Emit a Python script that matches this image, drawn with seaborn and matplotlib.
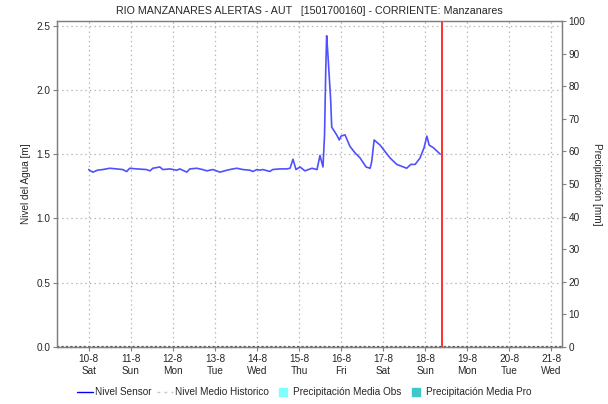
#!/usr/bin/env python
# plot.py - nivel del rio Manzanares
import pandas as pd
import seaborn as sns
import matplotlib.pyplot as plt
from matplotlib.lines import Line2D

# hours since 2024-08-10 00:00 and water level [m]
hours = [0, 1, 2.5, 5, 8, 12, 16, 19.4, 21.7, 23.4, 27.4, 33, 35, 36.6, 40.6,
         42.3, 46.3, 50.3, 52, 56, 57.7, 61.7, 65, 67.4, 70.9, 74.9, 78.9,
         82.3, 84.6, 88, 92, 93.7, 96, 97.7, 99.4, 103.4, 105, 109, 113,
         114.9, 116.6, 118.3, 120.6, 123.4, 127.4, 130.3, 132, 133.7, 134.6,
         135.3, 135.8, 136.4, 137.3, 138.1, 138.7, 141.5, 143, 144, 146.3,
         149.1, 152, 154.9, 158.3, 160.6, 161.5, 162.9, 166.3, 168, 172,
         175.8, 181.5, 183.8, 186.3, 189.1, 191.4, 193, 194.3, 196.7, 200.6]
nivel = [1.38, 1.37, 1.36, 1.375, 1.38, 1.39, 1.385, 1.38, 1.365, 1.39,
         1.385, 1.38, 1.37, 1.39, 1.40, 1.38, 1.385, 1.375, 1.385, 1.36,
         1.385, 1.39, 1.38, 1.37, 1.38, 1.36, 1.375, 1.385, 1.39, 1.38,
         1.375, 1.365, 1.38, 1.375, 1.38, 1.365, 1.38, 1.385, 1.385, 1.39,
         1.46, 1.38, 1.40, 1.37, 1.39, 1.38, 1.49, 1.40, 1.65, 2.16, 2.42,
         2.30, 2.10, 1.92, 1.71, 1.65, 1.61, 1.64, 1.65, 1.56, 1.51, 1.47,
         1.40, 1.39, 1.44, 1.61, 1.57, 1.54, 1.47, 1.42, 1.39, 1.42, 1.42,
         1.47, 1.55, 1.64, 1.57, 1.55, 1.50]

start = pd.Timestamp('2024-08-10 00:00')
ahora = pd.Timestamp('2024-08-18 09:40')
x_min = pd.Timestamp('2024-08-09 06:00')
x_max = pd.Timestamp('2024-08-21 06:00')
dias = pd.date_range('2024-08-10', '2024-08-21', freq='D')
dia_sem = ['Sat', 'Sun', 'Mon', 'Tue', 'Wed', 'Thu', 'Fri', 'Sat', 'Sun',
           'Mon', 'Tue', 'Wed']

titulo = 'RIO MANZANARES ALERTAS - AUT   [1501700160] - CORRIENTE: Manzanares'

df = pd.DataFrame({'fecha': start + pd.to_timedelta(hours, unit='h'),
                   'nivel': nivel})

sns.set_style('white')
plt.rcParams['font.family'] = ['Liberation Sans', 'DejaVu Sans']
plt.rcParams['font.size'] = 7.2

fig = plt.figure(figsize=(6.08, 4.04), dpi=100)
ax = fig.add_axes([0.094, 0.141, 0.830, 0.807])

sns.lineplot(data=df, x='fecha', y='nivel', ax=ax, color='#5050ff',
             linewidth=1.2)
ax.plot([x_min, x_max], [0, 0], color='#555555', linestyle=(0, (1, 1)),
        linewidth=1.6, clip_on=False, zorder=5)
ax.axvline(ahora, color='#ff2020', linewidth=1.3, zorder=6)

ax.set_xlim(x_min, x_max)
ax.set_ylim(0, 2.535)
ax.set_yticks([0, 0.5, 1.0, 1.5, 2.0, 2.5])
ax.yaxis.set_major_formatter(plt.FormatStrFormatter('%.1f'))
ax.set_xticks(dias)
ax.set_xticklabels([f'{d.day}-{d.month}\n{w}' for d, w in zip(dias, dia_sem)])
ax.set_xlabel('')
ax.set_ylabel('Nivel del Agua [m]', fontsize=7.2)
ax.grid(True, color='#b8b8b8', linestyle=(0, (1.2, 2.5)), linewidth=0.9)
ax.tick_params(direction='out', length=3, width=0.8, color='#808080',
               labelsize=7.2, left=True, bottom=True, pad=2)
for s in ax.spines.values():
    s.set_color('#808080')
    s.set_linewidth(0.9)

ax2 = ax.twinx()
ax2.set_ylim(0, 100)
ax2.set_yticks(range(0, 101, 10))
ax2.set_ylabel('Precipitación [mm]', rotation=270, labelpad=12, fontsize=7.2)
ax2.tick_params(direction='out', length=3, width=0.8, color='#808080',
                labelsize=7.2, right=True, pad=2)
for s in ax2.spines.values():
    s.set_color('#808080')
    s.set_linewidth(0.9)

ax.set_title(titulo, fontsize=7.7, pad=5)

handles = [Line2D([], [], color='#0000ff', linewidth=1),
           Line2D([], [], color='#c8c8c8', linestyle=(0, (2, 3)), linewidth=1),
           Line2D([], [], color='#80ffff', marker='s', markersize=6,
                  linestyle='none'),
           Line2D([], [], color='#40c8c8', marker='s', markersize=6,
                  linestyle='none')]
labels = ['Nivel Sensor', 'Nivel Medio Historico',
          'Precipitación Media Obs', 'Precipitación Media Pro']
fig.legend(handles, labels, loc='lower center', bbox_to_anchor=(0.5, -0.005),
           ncol=4, frameon=False, fontsize=7.2, handlelength=1.6,
           handletextpad=0.2, columnspacing=0.6)

fig.savefig('out.png', dpi=100)
